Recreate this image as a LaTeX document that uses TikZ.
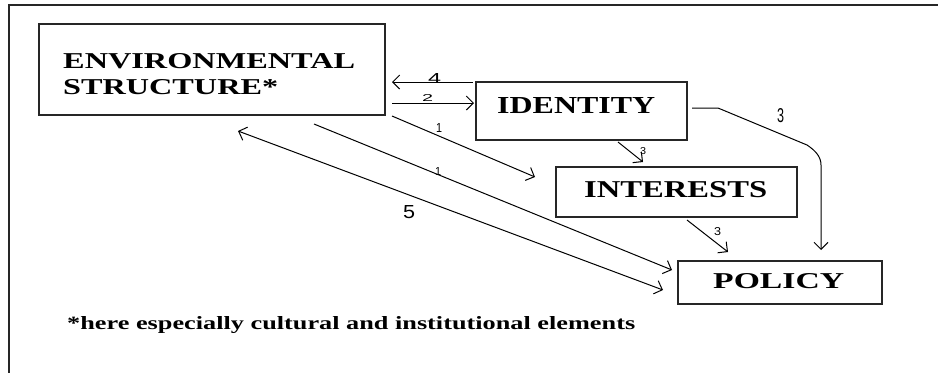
\documentclass[tikz,border=0pt]{standalone}
\usepackage{fontspec}
\usepackage{graphicx}
\setmainfont{Liberation Serif}
\newfontfamily\numfont{Liberation Sans}
\usetikzlibrary{arrows.meta}
\newcommand{\fitbox}[3]{\resizebox{#1pt}{#2pt}{#3}}
\tikzset{
  box/.style={draw=black!85, line width=1.5pt, inner sep=0pt, rectangle},
  boxtxt/.style={inner sep=0pt, anchor=base west, font=\bfseries},
  num/.style={inner sep=0pt, anchor=base west, font=\numfont},
  conn/.style={draw=black, line width=1pt, -{Straight Barb[length=7pt,width=14pt,line width=1pt]}},
  conn2/.style={draw=black, line width=1pt, {Straight Barb[length=7pt,width=14pt,line width=1pt]}-{Straight Barb[length=7pt,width=14pt,line width=1pt]}},
  frame/.style={draw=black!85, line width=1.6pt}
}
\begin{document}
\begin{tikzpicture}[x=1pt,y=-1pt]
\useasboundingbox (0,0) rectangle (938,373);
% frame
\coordinate (ftr) at (938,5);
\coordinate (ftl) at (9,5);
\coordinate (fbl) at (9,373);
\draw[frame] (ftr) -- (ftl) -- (fbl);
% boxes
\node[box, minimum width=346pt, minimum height=91pt] (env) at (212,69.5) {};
\node[box, minimum width=211pt, minimum height=58pt] (identity) at (581.5,111) {};
\node[box, minimum width=241pt, minimum height=50pt] (interests) at (676.5,192) {};
\node[box, minimum width=204pt, minimum height=43pt] (policy) at (780,282.5) {};
% box texts
\node[boxtxt] (envA) at (63,68) {\fitbox{292}{15}{ENVIRONMENTAL}};
\node[boxtxt] (envB) at (63,94) {\fitbox{215}{15}{STRUCTURE*}};
\node[boxtxt] (idt) at (497,113) {\fitbox{158}{16}{IDENTITY}};
\node[boxtxt] (intt) at (584,197) {\fitbox{183}{16}{INTERESTS}};
\node[boxtxt] (polt) at (713,288) {\fitbox{131}{15}{POLICY}};
% footnote
\node[boxtxt] (foot) at (67,329) {\fitbox{568}{13}{*here especially cultural and institutional elements}};
% connector end points
\coordinate (a4s) at (473,82);
\coordinate (a4e) at (392,82);
\coordinate (a2s) at (392,103);
\coordinate (a2e) at (474,103);
\coordinate (a1s) at (392,116);
\coordinate (a1e) at (535,177);
\coordinate (b1s) at (314,124);
\coordinate (b1e) at (672,270);
\coordinate (a5s) at (238,131);
\coordinate (a5e) at (663,290);
\coordinate (c3s) at (618,142);
\coordinate (c3e) at (643,162);
\coordinate (d3s) at (687,220);
\coordinate (d3e) at (728,252);
\coordinate (e3s) at (692,108);
\coordinate (e3a) at (718,108);
\coordinate (e3b) at (807,145);
\coordinate (e3c) at (821,165);
\coordinate (e3e) at (821,250);
% connectors
\draw[conn] (a4s) -- (a4e);
\draw[conn] (a2s) -- (a2e);
\draw[conn] (a1s) -- (a1e);
\draw[conn] (b1s) -- (b1e);
\draw[conn2] (a5s) -- (a5e);
\draw[conn] (c3s) -- (c3e);
\draw[conn] (d3s) -- (d3e);
\draw[conn] (e3s) -- (e3a) -- (e3b) .. controls (816,151) and (821,157) .. (e3c) -- (e3e);
% labels
\node[num] (l4) at (428,83) {\fitbox{13}{10}{4}};
\node[num] (l2) at (422,101) {\fitbox{11}{7}{2}};
\node[num] (l1a) at (436,132) {\fitbox{6}{9}{1}};
\node[num] (l1b) at (435,175) {\fitbox{6}{8}{1}};
\node[num] (l5) at (403,218) {\fitbox{12}{13}{5}};
\node[num] (l3a) at (640,154) {\fitbox{6}{7}{3}};
\node[num] (l3b) at (714,235) {\fitbox{7}{8}{3}};
\node[num] (l3c) at (777,122) {\fitbox{7}{14}{3}};
\end{tikzpicture}
\end{document}
